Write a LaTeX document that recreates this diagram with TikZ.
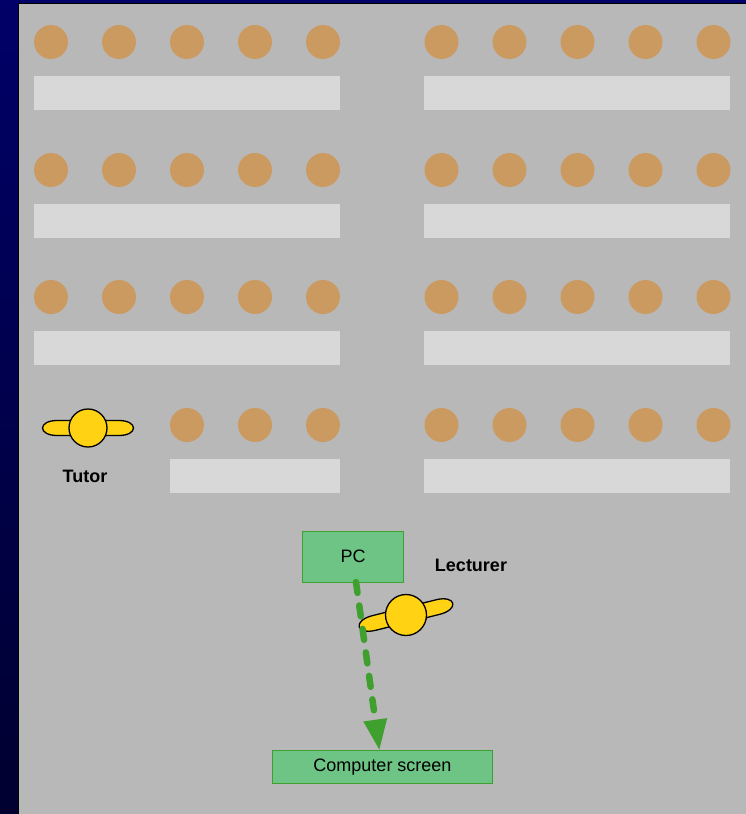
\documentclass[tikz,border=0pt]{standalone}
\usepackage{fontspec}
\setmainfont{Liberation Sans}
\usepackage{tikz}
\usetikzlibrary{arrows.meta}
\usetikzlibrary{positioning}
\definecolor{navytop}{HTML}{000068}
\definecolor{navybot}{HTML}{000030}
\definecolor{roomgray}{HTML}{B8B8B8}
\definecolor{seatbrown}{HTML}{CB9A61}
\definecolor{deskgray}{HTML}{D8D8D8}
\definecolor{persongold}{HTML}{FFD214}
\definecolor{boxgreen}{HTML}{6DC485}
\definecolor{linegreen}{HTML}{3F9F2F}
\tikzset{
    seat/.style={
           circle,
           fill=seatbrown,
           minimum size=34pt,
           inner sep=0pt,
           outer sep=0pt,
           },
    desk/.style={
           rectangle,
           fill=deskgray,
           minimum width=306pt,
           minimum height=34pt,
           inner sep=0pt,
           outer sep=0pt,
           },
    greenbox/.style={
           rectangle,
           fill=boxgreen,
           draw=linegreen, line width=1pt,
           inner sep=0pt,
           outer sep=0pt,
           font=\fontsize{18}{21}\selectfont,
           },
    head/.style={
           circle,
           fill=persongold,
           draw=black, line width=1.3pt,
           minimum size=38pt,
           inner sep=0pt,
           },
    namelabel/.style={
           font=\fontsize{18}{21}\selectfont\bfseries,
           inner sep=0pt,
           },
    arms/.pic={
           \draw[fill=persongold, draw=black, line width=1.3pt]
                (-31,-7.5) -- (31,-7.5) .. controls (40,-7.5) and (45.5,-4) .. (45.5,0)
                .. controls (45.5,4) and (40,7.5) .. (31,7.5) -- (-31,7.5)
                .. controls (-40,7.5) and (-45.5,4) .. (-45.5,0)
                .. controls (-45.5,-4) and (-40,-7.5) .. (-31,-7.5) -- cycle;
           },
}
\begin{document}
\begin{tikzpicture}[x=1pt,y=-1pt,node distance=34pt]
	\useasboundingbox (0,0) rectangle (746,814);
	\shade[top color=navytop, bottom color=navybot] (0,0) rectangle (746,814);
	\fill[black] (18,3) rectangle (746,814);
	\fill[roomgray] (19,4) rectangle (746,814);

	%left column
	\node[seat] (a11) at (51,42) {};
	\node[seat, right=of a11] (a12) {};
	\node[seat, right=of a12] (a13) {};
	\node[seat, right=of a13] (a14) {};
	\node[seat, right=of a14] (a15) {};
	\node[desk] (d1) at (187,93) {};

	\node[seat] (a21) at (51,170) {};
	\node[seat, right=of a21] (a22) {};
	\node[seat, right=of a22] (a23) {};
	\node[seat, right=of a23] (a24) {};
	\node[seat, right=of a24] (a25) {};
	\node[desk] (d2) at (187,221) {};

	\node[seat] (a31) at (51,297) {};
	\node[seat, right=of a31] (a32) {};
	\node[seat, right=of a32] (a33) {};
	\node[seat, right=of a33] (a34) {};
	\node[seat, right=of a34] (a35) {};
	\node[desk] (d3) at (187,348) {};

	\node[seat] (a43) at (187,425) {};
	\node[seat, right=of a43] (a44) {};
	\node[seat, right=of a44] (a45) {};
	\node[desk, minimum width=170pt] (d4) at (255,476) {};

	%right column
	\node[seat] (b11) at (441.5,42) {};
	\node[seat, right=of b11] (b12) {};
	\node[seat, right=of b12] (b13) {};
	\node[seat, right=of b13] (b14) {};
	\node[seat, right=of b14] (b15) {};
	\node[desk] (e1) at (577,93) {};

	\node[seat] (b21) at (441.5,170) {};
	\node[seat, right=of b21] (b22) {};
	\node[seat, right=of b22] (b23) {};
	\node[seat, right=of b23] (b24) {};
	\node[seat, right=of b24] (b25) {};
	\node[desk] (e2) at (577,221) {};

	\node[seat] (b31) at (441.5,297) {};
	\node[seat, right=of b31] (b32) {};
	\node[seat, right=of b32] (b33) {};
	\node[seat, right=of b33] (b34) {};
	\node[seat, right=of b34] (b35) {};
	\node[desk] (e3) at (577,348) {};

	\node[seat] (b41) at (441.5,425) {};
	\node[seat, right=of b41] (b42) {};
	\node[seat, right=of b42] (b43) {};
	\node[seat, right=of b43] (b44) {};
	\node[seat, right=of b44] (b45) {};
	\node[desk] (e4) at (577,476) {};

	%people
	\pic at (88,428) {arms};
	\node[head] (tutor) at (88,428) {};
	\node[namelabel] (tutorname) at (85,476) {Tutor};

	\pic[rotate=14, xscale=1.06] at (406,615) {arms};
	\node[head, minimum size=41pt] (lecturer) at (406,615) {};
	\node[namelabel] (lecturername) at (471,565) {Lecturer};

	%boxes
	\node[greenbox, minimum width=101pt, minimum height=51pt] (pc) at (353,556.5) {PC};
	\node[greenbox, minimum width=220pt, minimum height=33pt] (screen) at (382.5,767) {Computer screen};

	%EDGES
	\draw[-{Triangle[length=31pt,width=22pt]}, color=linegreen, line width=6.5pt, line cap=round,
		dash pattern=on 11pt off 12.7pt]
		([xshift=3pt]pc.south) -- ([xshift=-3pt]screen.north);
\end{tikzpicture}
\end{document}
